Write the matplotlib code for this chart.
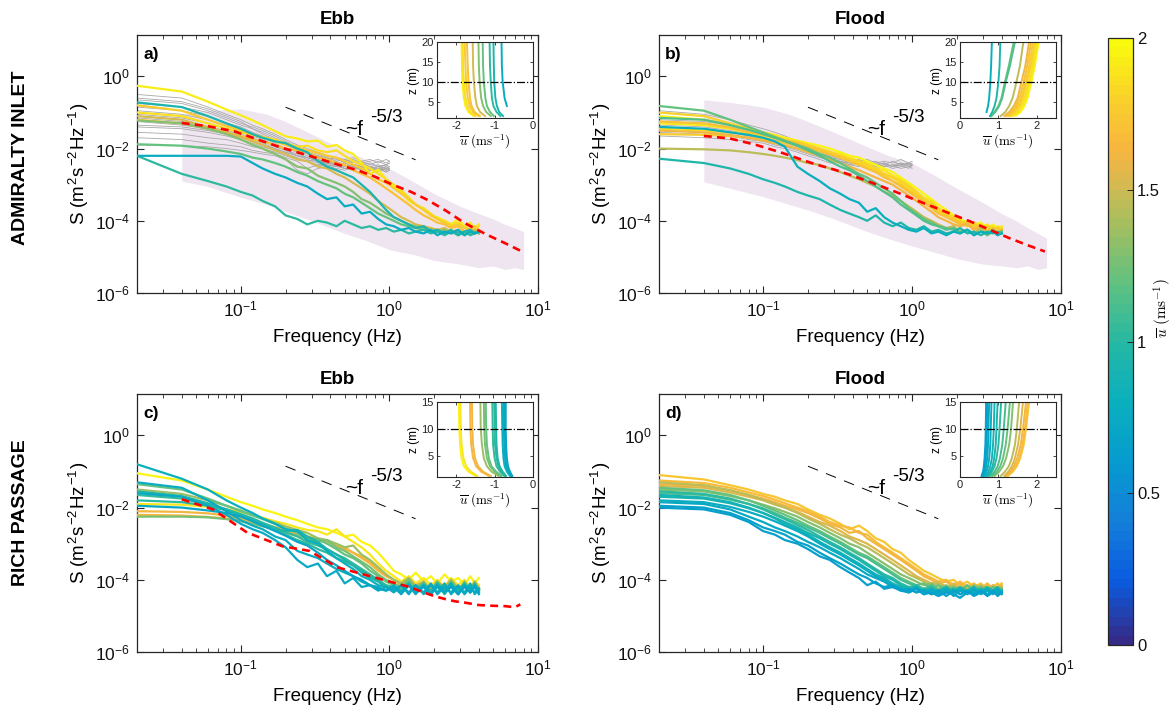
import numpy as np
import matplotlib
matplotlib.use('Agg')
import matplotlib.pyplot as plt
from matplotlib.colors import LinearSegmentedColormap, ListedColormap, Normalize
from matplotlib import ticker
import matplotlib.cm as cm

plt.rcParams['font.family'] = ['Liberation Sans', 'DejaVu Sans']
plt.rcParams['mathtext.fontset'] = 'cm'
plt.rcParams['axes.unicode_minus'] = False

# ---------------- data ----------------
FREQ = [0.02, 0.04, 0.06, 0.08, 0.10, 0.12, 0.14, 0.17, 0.20, 0.24, 0.28, 0.33, 0.38, 0.44, 0.50, 0.57,
        0.65, 0.74, 0.84, 0.95, 1.07, 1.2, 1.35, 1.5, 1.7, 1.9, 2.1, 2.35, 2.6, 2.9, 3.2, 3.5, 3.75, 4.0]
GREY_FREQ = [0.02, 0.04, 0.06, 0.08, 0.10, 0.12, 0.14, 0.17, 0.20, 0.24, 0.28, 0.33, 0.38, 0.44, 0.50,
             0.57, 0.65, 0.74, 0.84, 0.95, 1.0]
SHADE_FREQ = [0.04, 0.06, 0.1, 0.15, 0.2, 0.3, 0.5, 0.7, 1.0, 1.5, 2, 3, 4, 5, 6, 7, 8]
RED_FREQ = [0.04, 0.06, 0.09, 0.13, 0.18, 0.23, 0.3, 0.4, 0.6, 0.8, 1.05, 1.4, 1.8, 2.4, 3.2, 4.5, 6, 7.8]
RED_FREQ_C = [0.04, 0.065, 0.11, 0.19, 0.29, 0.45, 0.79, 1.39, 1.7, 2.0, 2.4, 2.8, 3.2, 4.0, 5.0, 6.0, 7.0, 7.6]
REF_F = [0.2, 1.5]
REF_S = [0.14, 4.9e-3]

# log10 spectra, panel a (Admiralty Inlet, ebb)
SPEED_A = [1.92, 1.85, 1.78, 1.70, 1.50, 1.30, 1.20, 1.00, 0.75, 0.92]
SPEC_A = [
    [-0.26,-0.42,-0.70,-0.92,-1.08,-1.22,-1.35,-1.52,-1.66,-1.72,-1.80,-1.78,-1.95,-1.90,-2.05,-2.15,-2.40,-2.70,-2.58,-2.85,-3.05,-3.20,-3.45,-3.55,-3.70,-3.85,-3.90,-4.00,-4.10,-3.95,-4.15,-4.05,-4.20,-4.10],
    [-1.00,-1.10,-1.30,-1.45,-1.55,-1.62,-1.68,-1.75,-1.85,-1.95,-1.92,-2.05,-2.10,-2.05,-2.20,-2.35,-2.45,-2.55,-2.70,-2.85,-3.00,-3.15,-3.35,-3.55,-3.65,-3.80,-3.95,-4.00,-4.10,-4.05,-4.20,-4.10,-4.25,-4.15],
    [-0.80,-0.95,-1.20,-1.38,-1.50,-1.60,-1.70,-1.80,-1.90,-1.98,-2.05,-2.12,-2.20,-2.25,-2.35,-2.45,-2.55,-2.70,-2.85,-2.95,-3.10,-3.25,-3.40,-3.55,-3.70,-3.85,-3.95,-4.05,-4.15,-4.10,-4.20,-4.25,-4.15,-4.30],
    [-1.20,-1.30,-1.45,-1.55,-1.65,-1.75,-1.80,-1.90,-2.00,-2.05,-2.10,-2.25,-2.30,-2.40,-2.45,-2.60,-2.70,-2.80,-2.95,-3.10,-3.25,-3.40,-3.55,-3.70,-3.85,-3.95,-4.05,-4.10,-4.20,-4.15,-4.30,-4.20,-4.35,-4.25],
    [-1.10,-1.20,-1.40,-1.55,-1.68,-1.80,-1.90,-2.05,-2.15,-2.30,-2.35,-2.50,-2.55,-2.70,-2.80,-2.95,-3.10,-3.25,-3.45,-3.60,-3.75,-3.90,-4.00,-4.10,-4.15,-4.20,-4.25,-4.20,-4.30,-4.25,-4.35,-4.30,-4.25,-4.35],
    [-1.22,-1.30,-1.45,-1.60,-1.75,-1.90,-2.00,-2.15,-2.30,-2.50,-2.55,-2.75,-2.85,-2.95,-3.05,-3.20,-3.40,-3.50,-3.65,-3.80,-3.90,-4.00,-4.10,-4.15,-4.20,-4.25,-4.30,-4.25,-4.35,-4.30,-4.40,-4.30,-4.35,-4.30],
    [-1.88,-1.92,-2.00,-2.08,-2.15,-2.25,-2.30,-2.40,-2.50,-2.65,-2.75,-2.90,-3.00,-3.10,-3.25,-3.35,-3.50,-3.65,-3.80,-3.90,-4.00,-4.10,-4.15,-4.20,-4.25,-4.30,-4.25,-4.35,-4.30,-4.40,-4.30,-4.35,-4.30,-4.35],
    [-2.20,-2.70,-2.90,-3.05,-3.20,-3.30,-3.45,-3.60,-3.85,-3.95,-4.10,-4.00,-4.05,-4.15,-4.00,-4.10,-4.20,-4.15,-4.25,-4.20,-4.30,-4.25,-4.35,-4.30,-4.25,-4.35,-4.30,-4.40,-4.30,-4.35,-4.30,-4.40,-4.35,-4.30],
    [-2.20,-2.20,-2.20,-2.20,-2.22,-2.40,-2.55,-2.70,-2.80,-2.95,-3.05,-3.25,-3.40,-3.35,-3.60,-3.55,-3.80,-3.75,-3.95,-4.10,-4.15,-4.25,-4.20,-4.30,-4.35,-4.25,-4.40,-4.30,-4.35,-4.25,-4.40,-4.30,-4.35,-4.30],
    [-0.72,-0.85,-1.10,-1.30,-1.45,-1.60,-1.70,-1.80,-1.85,-2.00,-2.10,-2.35,-2.50,-2.60,-2.70,-2.80,-3.00,-3.20,-3.45,-3.70,-3.90,-4.00,-4.10,-4.20,-4.15,-4.30,-4.25,-4.35,-4.25,-4.40,-4.30,-4.25,-4.35,-4.30],
]
GREY_A = [
    [-0.50,-0.60,-0.85,-1.05,-1.20,-1.35,-1.45,-1.60,-1.75,-1.90,-2.00,-2.10,-2.20,-2.25,-2.30,-2.25,-2.35,-2.30,-2.40,-2.30,-2.35],
    [-0.65,-0.75,-0.95,-1.15,-1.30,-1.40,-1.50,-1.65,-1.80,-1.95,-2.05,-2.15,-2.25,-2.35,-2.30,-2.40,-2.35,-2.45,-2.35,-2.45,-2.40],
    [-0.75,-0.85,-1.00,-1.20,-1.35,-1.45,-1.55,-1.70,-1.85,-2.00,-2.10,-2.20,-2.30,-2.25,-2.40,-2.35,-2.45,-2.40,-2.50,-2.45,-2.40],
    [-0.85,-0.95,-1.10,-1.30,-1.40,-1.55,-1.65,-1.80,-1.90,-2.05,-2.15,-2.20,-2.35,-2.40,-2.35,-2.45,-2.40,-2.50,-2.45,-2.55,-2.50],
    [-0.95,-1.05,-1.20,-1.35,-1.45,-1.60,-1.70,-1.85,-2.00,-2.10,-2.20,-2.30,-2.35,-2.45,-2.40,-2.50,-2.45,-2.55,-2.50,-2.45,-2.50],
    [-1.05,-1.15,-1.30,-1.45,-1.55,-1.65,-1.75,-1.90,-2.05,-2.15,-2.25,-2.30,-2.40,-2.35,-2.50,-2.45,-2.55,-2.50,-2.60,-2.50,-2.55],
    [-1.15,-1.25,-1.40,-1.50,-1.60,-1.70,-1.80,-1.95,-2.05,-2.20,-2.25,-2.35,-2.45,-2.50,-2.45,-2.55,-2.50,-2.60,-2.55,-2.60,-2.55],
    [-1.25,-1.35,-1.45,-1.55,-1.65,-1.75,-1.85,-2.00,-2.10,-2.20,-2.30,-2.40,-2.35,-2.45,-2.55,-2.50,-2.60,-2.55,-2.50,-2.60,-2.55],
    [-1.40,-1.45,-1.55,-1.65,-1.75,-1.85,-1.95,-2.05,-2.15,-2.25,-2.35,-2.30,-2.45,-2.50,-2.45,-2.55,-2.50,-2.60,-2.55,-2.65,-2.60],
    [-1.55,-1.60,-1.70,-1.75,-1.85,-1.95,-2.00,-2.10,-2.20,-2.30,-2.35,-2.45,-2.40,-2.50,-2.55,-2.50,-2.60,-2.55,-2.65,-2.55,-2.60],
    [-1.70,-1.75,-1.85,-1.90,-1.95,-2.05,-2.10,-2.15,-2.25,-2.35,-2.55,-2.45,-2.50,-2.45,-2.55,-2.60,-2.50,-2.60,-2.55,-2.65,-2.60],
    [-1.90,-1.92,-1.95,-2.00,-2.05,-2.10,-2.15,-2.20,-2.30,-2.60,-2.70,-2.55,-2.50,-2.55,-2.60,-2.50,-2.60,-2.55,-2.60,-2.55,-2.60],
    [-0.60,-0.70,-0.90,-1.10,-1.25,-1.45,-1.60,-1.75,-1.90,-2.00,-2.10,-2.20,-2.25,-2.30,-2.35,-2.30,-2.40,-2.35,-2.30,-2.40,-2.35],
    [-1.35,-1.40,-1.50,-1.60,-1.70,-1.80,-1.90,-2.00,-2.10,-2.20,-2.25,-2.35,-2.40,-2.45,-2.50,-2.45,-2.55,-2.50,-2.55,-2.50,-2.55],
]
SHADE_A_HI = [-1.05,-0.95,-0.90,-1.05,-1.25,-1.60,-2.05,-2.30,-2.55,-2.95,-3.25,-3.60,-3.80,-3.95,-4.10,-4.20,-4.30]
SHADE_A_LO = [-2.90,-3.05,-3.35,-3.55,-3.75,-4.00,-4.35,-4.55,-4.80,-4.95,-5.10,-5.20,-5.30,-5.25,-5.35,-5.30,-5.35]
RED_A = [-1.29,-1.38,-1.52,-1.75,-1.95,-2.08,-2.22,-2.38,-2.59,-2.78,-3.00,-3.20,-3.42,-3.72,-4.06,-4.38,-4.62,-4.85]

# panel b (Admiralty Inlet, flood)
SPEED_B = [1.95, 1.90, 1.85, 1.80, 1.75, 1.70, 1.60, 1.45, 1.20, 1.15, 0.95, 0.80]
SPEC_B = [
    [-1.10,-1.20,-1.35,-1.45,-1.55,-1.62,-1.70,-1.78,-1.85,-1.92,-2.00,-2.10,-2.20,-2.25,-2.35,-2.45,-2.55,-2.65,-2.80,-2.95,-3.10,-3.25,-3.40,-3.55,-3.70,-3.85,-3.95,-4.05,-4.10,-4.05,-4.20,-4.10,-4.25,-4.15],
    [-1.30,-1.35,-1.45,-1.55,-1.62,-1.70,-1.75,-1.80,-1.90,-2.00,-2.10,-2.15,-2.25,-2.35,-2.40,-2.55,-2.60,-2.75,-2.85,-3.00,-3.20,-3.35,-3.45,-3.65,-3.80,-3.90,-4.00,-4.10,-4.05,-4.20,-4.10,-4.25,-4.15,-4.20],
    [-1.45,-1.50,-1.55,-1.60,-1.65,-1.72,-1.80,-1.88,-1.95,-2.05,-2.10,-2.20,-2.30,-2.40,-2.50,-2.60,-2.70,-2.80,-2.95,-3.10,-3.25,-3.45,-3.55,-3.70,-3.85,-3.95,-4.05,-4.00,-4.15,-4.10,-4.25,-4.15,-4.30,-4.20],
    [-1.00,-1.10,-1.30,-1.45,-1.55,-1.65,-1.75,-1.82,-1.90,-2.00,-2.08,-2.20,-2.30,-2.35,-2.45,-2.55,-2.70,-2.80,-2.90,-3.05,-3.20,-3.40,-3.50,-3.65,-3.80,-3.90,-4.00,-4.10,-4.05,-4.20,-4.15,-4.30,-4.20,-4.25],
    [-1.60,-1.62,-1.65,-1.70,-1.75,-1.80,-1.85,-1.92,-2.00,-2.08,-2.15,-2.25,-2.35,-2.45,-2.55,-2.65,-2.75,-2.90,-3.00,-3.15,-3.30,-3.45,-3.60,-3.75,-3.85,-3.95,-4.05,-4.15,-4.10,-4.25,-4.15,-4.30,-4.20,-4.25],
    [-1.25,-1.30,-1.42,-1.55,-1.62,-1.70,-1.78,-1.85,-1.95,-2.05,-2.15,-2.25,-2.35,-2.45,-2.55,-2.65,-2.80,-2.90,-3.05,-3.20,-3.35,-3.50,-3.65,-3.80,-3.90,-4.00,-4.10,-4.05,-4.20,-4.15,-4.30,-4.20,-4.35,-4.25],
    [-1.50,-1.55,-1.62,-1.70,-1.78,-1.85,-1.92,-2.00,-2.10,-2.20,-2.30,-2.40,-2.50,-2.60,-2.70,-2.80,-2.90,-3.00,-3.15,-3.30,-3.45,-3.60,-3.75,-3.90,-4.00,-4.10,-4.15,-4.10,-4.25,-4.20,-4.30,-4.25,-4.35,-4.25],
    [-2.00,-2.02,-2.05,-2.10,-2.15,-2.20,-2.25,-2.32,-2.40,-2.45,-2.55,-2.65,-2.75,-2.85,-2.95,-3.05,-3.20,-3.30,-3.45,-3.60,-3.75,-3.90,-4.00,-4.10,-4.20,-4.15,-4.30,-4.25,-4.35,-4.20,-4.40,-4.25,-4.35,-4.30],
    [-0.82,-0.95,-1.20,-1.40,-1.55,-1.68,-1.78,-1.90,-2.00,-2.15,-2.25,-2.40,-2.55,-2.70,-2.80,-2.95,-3.10,-3.25,-3.45,-3.65,-3.80,-3.95,-4.05,-4.15,-4.20,-4.25,-4.30,-4.25,-4.35,-4.30,-4.40,-4.30,-4.35,-4.30],
    [-1.15,-1.20,-1.35,-1.48,-1.60,-1.70,-1.80,-1.92,-2.05,-2.20,-2.35,-2.50,-2.60,-2.75,-2.90,-3.05,-3.20,-3.35,-3.55,-3.70,-3.85,-4.00,-4.10,-4.15,-4.25,-4.20,-4.35,-4.25,-4.40,-4.30,-4.35,-4.25,-4.40,-4.30],
    [-2.28,-2.40,-2.55,-2.70,-2.85,-2.95,-3.05,-3.20,-3.30,-3.40,-3.55,-3.70,-3.80,-3.90,-4.00,-3.85,-4.05,-4.15,-4.05,-4.20,-4.25,-4.15,-4.30,-4.25,-4.35,-4.30,-4.20,-4.35,-4.30,-4.40,-4.30,-4.35,-4.30,-4.35],
    [-1.40,-1.45,-1.55,-1.62,-1.70,-1.80,-1.95,-2.50,-2.70,-2.90,-3.10,-3.25,-3.40,-3.50,-3.75,-3.65,-3.90,-4.05,-4.15,-4.25,-4.30,-4.20,-4.35,-4.30,-4.40,-4.30,-4.35,-4.25,-4.40,-4.30,-4.35,-4.30,-4.40,-4.35],
]
GREY_B = [
    [-0.95,-1.05,-1.20,-1.35,-1.45,-1.55,-1.65,-1.80,-1.90,-2.05,-2.15,-2.25,-2.30,-2.35,-2.30,-2.40,-2.35,-2.40,-2.30,-2.40,-2.35],
    [-1.10,-1.20,-1.30,-1.45,-1.55,-1.65,-1.75,-1.85,-1.95,-2.10,-2.20,-2.25,-2.35,-2.30,-2.40,-2.35,-2.45,-2.35,-2.45,-2.40,-2.45],
    [-1.25,-1.30,-1.40,-1.50,-1.60,-1.70,-1.80,-1.90,-2.00,-2.10,-2.20,-2.30,-2.25,-2.40,-2.35,-2.45,-2.40,-2.50,-2.40,-2.45,-2.40],
    [-1.35,-1.40,-1.50,-1.60,-1.70,-1.75,-1.85,-1.95,-2.05,-2.15,-2.25,-2.35,-2.40,-2.35,-2.45,-2.40,-2.50,-2.45,-2.40,-2.50,-2.45],
    [-1.45,-1.50,-1.55,-1.65,-1.75,-1.85,-1.90,-2.00,-2.10,-2.20,-2.30,-2.35,-2.45,-2.40,-2.50,-2.45,-2.40,-2.50,-2.45,-2.55,-2.45],
    [-1.55,-1.60,-1.65,-1.75,-1.80,-1.90,-1.95,-2.05,-2.15,-2.25,-2.30,-2.40,-2.35,-2.45,-2.40,-2.50,-2.45,-2.55,-2.50,-2.45,-2.50],
    [-1.65,-1.70,-1.75,-1.80,-1.85,-1.95,-2.00,-2.10,-2.20,-2.30,-2.40,-2.35,-2.45,-2.50,-2.45,-2.55,-2.50,-2.45,-2.55,-2.50,-2.55],
    [-1.20,-1.25,-1.35,-1.45,-1.55,-1.65,-1.75,-1.90,-2.00,-2.15,-2.25,-2.30,-2.40,-2.45,-2.35,-2.45,-2.40,-2.50,-2.45,-2.40,-2.45],
]
SHADE_B_HI = [-0.65,-0.72,-0.85,-1.05,-1.25,-1.55,-1.95,-2.20,-2.40,-2.80,-3.10,-3.50,-3.80,-4.00,-4.20,-4.35,-4.48]
SHADE_B_LO = [-2.92,-3.10,-3.33,-3.55,-3.70,-3.95,-4.30,-4.50,-4.70,-4.90,-5.05,-5.20,-5.25,-5.30,-5.25,-5.35,-5.30]
RED_B = [-1.65,-1.72,-1.90,-2.10,-2.30,-2.45,-2.58,-2.75,-3.02,-3.22,-3.42,-3.62,-3.80,-4.00,-4.22,-4.48,-4.68,-4.85]

# panel c (Rich Passage, ebb)
SPEED_C = [1.95, 1.90, 1.65, 1.60, 1.35, 1.25, 1.20, 1.05, 1.00, 0.95, 0.80, 0.75, 0.72, 0.70]
SPEC_C = [
    [-1.05,-1.25,-1.50,-1.70,-1.85,-1.95,-2.05,-2.15,-2.25,-2.35,-2.45,-2.55,-2.60,-2.70,-2.80,-2.75,-2.95,-3.05,-3.25,-3.50,-3.75,-3.85,-4.00,-3.80,-4.05,-3.90,-4.10,-3.85,-4.05,-3.95,-4.15,-3.90,-4.10,-3.95],
    [-1.90,-1.92,-1.98,-2.05,-2.12,-2.20,-2.28,-2.38,-2.45,-2.55,-2.62,-2.65,-2.75,-2.60,-2.80,-2.95,-3.10,-3.30,-3.55,-3.75,-3.90,-4.05,-3.90,-4.10,-3.95,-4.15,-4.00,-4.20,-3.95,-4.15,-4.00,-4.20,-4.05,-4.15],
    [-2.20,-2.22,-2.26,-2.30,-2.35,-2.42,-2.48,-2.55,-2.65,-2.75,-2.80,-2.90,-2.95,-3.05,-3.15,-3.25,-3.40,-3.55,-3.75,-3.90,-4.00,-4.10,-3.95,-4.15,-4.05,-4.25,-4.05,-4.20,-4.00,-4.25,-4.10,-4.25,-4.05,-4.20],
    [-2.10,-2.12,-2.16,-2.22,-2.30,-2.38,-2.45,-2.55,-2.60,-2.72,-2.80,-2.88,-2.95,-3.05,-3.10,-3.25,-3.35,-3.50,-3.70,-3.88,-4.00,-4.15,-4.00,-4.25,-4.05,-4.30,-4.10,-4.25,-4.05,-4.30,-4.10,-4.25,-4.05,-4.25],
    [-1.50,-1.62,-1.80,-1.95,-2.08,-2.20,-2.30,-2.42,-2.52,-2.62,-2.70,-2.85,-2.90,-3.00,-3.10,-3.05,-3.30,-3.45,-3.65,-3.85,-4.00,-4.10,-3.95,-4.20,-4.05,-4.30,-4.05,-4.25,-4.00,-4.25,-4.10,-4.30,-4.05,-4.25],
    [-2.25,-2.25,-2.27,-2.32,-2.38,-2.45,-2.52,-2.60,-2.70,-2.78,-2.85,-2.95,-2.90,-3.10,-3.20,-3.35,-3.50,-3.65,-3.85,-4.00,-4.10,-4.20,-4.00,-4.25,-4.10,-4.30,-4.05,-4.25,-4.10,-4.35,-4.05,-4.30,-4.10,-4.25],
    [-1.35,-1.50,-1.75,-1.95,-2.10,-2.22,-2.32,-2.45,-2.58,-2.70,-2.82,-2.88,-3.00,-3.15,-3.30,-3.40,-3.55,-3.75,-3.90,-4.05,-4.15,-4.25,-4.05,-4.25,-4.10,-4.35,-4.10,-4.30,-4.05,-4.30,-4.15,-4.35,-4.10,-4.30],
    [-1.65,-1.75,-1.92,-2.05,-2.18,-2.30,-2.42,-2.55,-2.68,-2.80,-2.95,-3.05,-3.15,-3.30,-3.40,-3.55,-3.70,-3.85,-4.00,-4.15,-4.20,-4.30,-4.10,-4.35,-4.10,-4.35,-4.15,-4.30,-4.10,-4.35,-4.15,-4.30,-4.15,-4.30],
    [-1.80,-1.85,-1.95,-2.08,-2.22,-2.35,-2.48,-2.62,-2.75,-2.90,-3.00,-3.15,-3.25,-3.40,-3.50,-3.60,-3.80,-3.95,-4.05,-4.20,-4.25,-4.30,-4.10,-4.35,-4.15,-4.40,-4.10,-4.30,-4.15,-4.40,-4.15,-4.30,-4.10,-4.35],
    [-1.55,-1.68,-1.88,-2.05,-2.20,-2.32,-2.45,-2.60,-2.65,-2.62,-2.80,-2.95,-3.15,-3.30,-3.45,-3.60,-3.75,-3.90,-4.05,-4.20,-4.25,-4.35,-4.10,-4.35,-4.15,-4.30,-4.10,-4.40,-4.15,-4.30,-4.10,-4.35,-4.15,-4.30],
    [-0.80,-1.20,-1.50,-1.80,-2.00,-2.15,-2.30,-2.45,-2.60,-2.65,-2.90,-3.00,-3.20,-3.40,-3.55,-3.70,-3.90,-4.00,-4.15,-4.20,-4.30,-4.15,-4.35,-4.15,-4.40,-4.15,-4.35,-4.10,-4.40,-4.20,-4.35,-4.10,-4.40,-4.25],
    [-1.30,-1.45,-1.80,-2.10,-2.35,-2.50,-2.60,-2.80,-2.90,-3.20,-3.30,-3.40,-3.55,-3.70,-3.80,-3.90,-4.05,-4.15,-4.20,-4.30,-4.15,-4.35,-4.15,-4.40,-4.15,-4.40,-4.20,-4.35,-4.10,-4.40,-4.20,-4.35,-4.15,-4.35],
    [-1.60,-1.70,-1.95,-2.20,-2.45,-2.60,-2.70,-2.90,-3.10,-3.45,-3.65,-3.55,-3.90,-3.75,-4.10,-3.95,-4.20,-4.15,-4.30,-4.20,-4.35,-4.15,-4.40,-4.15,-4.35,-4.10,-4.40,-4.20,-4.35,-4.15,-4.40,-4.20,-4.35,-4.25],
    [-1.95,-2.00,-2.08,-2.15,-2.25,-2.38,-2.50,-2.65,-2.78,-2.95,-3.05,-3.25,-3.45,-3.60,-3.75,-3.90,-4.00,-4.15,-4.25,-4.30,-4.20,-4.40,-4.15,-4.35,-4.20,-4.40,-4.15,-4.35,-4.20,-4.40,-4.15,-4.35,-4.20,-4.40],
]
RED_C = [-1.77,-2.05,-2.69,-3.07,-3.20,-3.66,-3.93,-4.21,-4.35,-4.45,-4.54,-4.60,-4.63,-4.70,-4.72,-4.73,-4.76,-4.68]

# panel d (Rich Passage, flood)
SPEED_D = [1.72, 1.68, 1.62, 1.55, 1.45, 1.30, 1.20, 1.10, 1.00, 0.92, 0.85, 0.78, 0.72, 0.68, 0.65]
SPEC_D = [
    [-1.10,-1.22,-1.38,-1.50,-1.62,-1.70,-1.80,-1.90,-2.05,-2.20,-2.30,-2.45,-2.60,-2.50,-2.65,-2.85,-2.95,-3.15,-3.25,-3.45,-3.60,-3.75,-3.85,-3.95,-4.05,-4.00,-4.15,-4.05,-4.20,-4.10,-4.25,-4.15,-4.20,-4.10],
    [-1.25,-1.32,-1.45,-1.58,-1.68,-1.78,-1.88,-2.00,-2.10,-2.25,-2.40,-2.50,-2.55,-2.70,-2.75,-2.95,-3.10,-3.25,-3.40,-3.55,-3.70,-3.85,-3.95,-4.05,-4.00,-4.15,-4.05,-4.20,-4.10,-4.25,-4.15,-4.20,-4.10,-4.25],
    [-1.35,-1.40,-1.52,-1.65,-1.75,-1.85,-1.95,-2.05,-2.15,-2.30,-2.45,-2.55,-2.70,-2.65,-2.85,-3.00,-3.15,-3.30,-3.45,-3.60,-3.75,-3.90,-4.00,-4.10,-4.05,-4.20,-4.10,-4.25,-4.15,-4.25,-4.10,-4.25,-4.20,-4.15],
    [-1.40,-1.45,-1.58,-1.70,-1.80,-1.92,-2.00,-2.12,-2.25,-2.40,-2.50,-2.65,-2.80,-2.90,-3.00,-3.15,-3.30,-3.45,-3.60,-3.75,-3.90,-4.00,-4.10,-4.05,-4.20,-4.10,-4.25,-4.15,-4.30,-4.15,-4.25,-4.15,-4.30,-4.20],
    [-1.30,-1.38,-1.52,-1.65,-1.78,-1.90,-2.00,-2.15,-2.30,-2.45,-2.60,-2.75,-2.85,-3.00,-3.10,-3.25,-3.40,-3.55,-3.70,-3.85,-3.95,-4.05,-4.15,-4.10,-4.25,-4.15,-4.30,-4.20,-4.25,-4.15,-4.30,-4.20,-4.25,-4.20],
    [-1.50,-1.55,-1.68,-1.80,-1.92,-2.02,-2.12,-2.25,-2.40,-2.55,-2.70,-2.85,-3.00,-3.10,-3.25,-3.40,-3.55,-3.70,-3.85,-3.95,-4.05,-4.15,-4.10,-4.25,-4.15,-4.30,-4.20,-4.30,-4.15,-4.25,-4.20,-4.30,-4.20,-4.25],
    [-1.45,-1.52,-1.65,-1.80,-1.95,-2.08,-2.20,-2.35,-2.50,-2.65,-2.80,-2.95,-3.10,-3.25,-3.35,-3.50,-3.65,-3.80,-3.95,-4.05,-4.15,-4.10,-4.25,-4.15,-4.30,-4.20,-4.30,-4.15,-4.30,-4.20,-4.30,-4.20,-4.30,-4.25],
    [-1.60,-1.65,-1.78,-1.90,-2.02,-2.15,-2.28,-2.42,-2.55,-2.70,-2.85,-3.00,-3.15,-3.30,-3.40,-3.55,-3.70,-3.85,-4.00,-4.10,-4.15,-4.25,-4.15,-4.30,-4.20,-4.35,-4.20,-4.30,-4.20,-4.35,-4.20,-4.30,-4.25,-4.30],
    [-1.55,-1.62,-1.75,-1.90,-2.05,-2.20,-2.32,-2.48,-2.62,-2.80,-2.95,-3.10,-3.25,-3.40,-3.55,-3.70,-3.85,-3.95,-4.10,-4.20,-4.15,-4.30,-4.20,-4.35,-4.25,-4.30,-4.20,-4.35,-4.25,-4.30,-4.20,-4.35,-4.25,-4.30],
    [-1.70,-1.75,-1.88,-2.02,-2.15,-2.28,-2.40,-2.55,-2.70,-2.85,-3.00,-3.15,-3.30,-3.45,-3.60,-3.75,-3.90,-4.00,-4.15,-4.25,-4.20,-4.35,-4.25,-4.30,-4.20,-4.35,-4.25,-4.30,-4.20,-4.35,-4.25,-4.30,-4.20,-4.35],
    [-1.65,-1.72,-1.85,-2.00,-2.15,-2.30,-2.45,-2.60,-2.75,-2.95,-3.10,-3.25,-3.40,-3.55,-3.70,-3.85,-3.95,-4.10,-4.20,-4.25,-4.35,-4.25,-4.40,-4.30,-4.35,-4.25,-4.40,-4.30,-4.35,-4.25,-4.40,-4.30,-4.35,-4.30],
    [-1.80,-1.85,-1.98,-2.12,-2.25,-2.38,-2.50,-2.65,-2.80,-3.00,-3.15,-3.30,-3.45,-3.60,-3.75,-3.90,-4.00,-4.15,-4.25,-4.30,-4.20,-4.35,-4.25,-4.40,-4.30,-4.35,-4.25,-4.40,-4.30,-4.35,-4.25,-4.40,-4.30,-4.35],
    [-1.85,-1.90,-2.05,-2.25,-2.40,-2.55,-2.65,-2.80,-2.95,-3.10,-3.25,-3.40,-3.55,-3.70,-3.85,-3.95,-4.05,-4.20,-4.25,-4.35,-4.25,-4.40,-4.30,-4.35,-4.25,-4.45,-4.30,-4.35,-4.25,-4.40,-4.30,-4.35,-4.25,-4.40],
    [-1.95,-2.00,-2.15,-2.35,-2.55,-2.65,-2.75,-2.95,-3.05,-3.25,-3.40,-3.55,-3.70,-3.85,-3.95,-4.10,-4.20,-4.15,-4.30,-4.25,-4.35,-4.30,-4.40,-4.30,-4.45,-4.30,-4.40,-4.30,-4.45,-4.35,-4.40,-4.30,-4.45,-4.35],
    [-2.00,-2.05,-2.20,-2.40,-2.65,-2.75,-2.90,-3.00,-3.15,-3.35,-3.45,-3.65,-3.80,-3.95,-4.15,-4.05,-4.25,-4.20,-4.30,-4.35,-4.25,-4.40,-4.35,-4.45,-4.35,-4.40,-4.50,-4.35,-4.40,-4.30,-4.45,-4.35,-4.40,-4.35],
]

# inset velocity profiles (u in m/s at heights z in m)
Z_AB = [1.5, 2.5, 4, 6, 10, 14, 20]
Z_CD = [1.2, 2, 3, 4.5, 7, 10, 15]
PROF_A = [
    [-1.55,-1.68,-1.76,-1.80,-1.84,-1.85,-1.86],
    [-1.50,-1.63,-1.71,-1.76,-1.80,-1.82,-1.83],
    [-1.42,-1.56,-1.65,-1.70,-1.74,-1.76,-1.78],
    [-1.38,-1.52,-1.60,-1.64,-1.68,-1.70,-1.72],
    [-1.25,-1.38,-1.46,-1.50,-1.54,-1.56,-1.57],
    [-1.10,-1.22,-1.30,-1.35,-1.39,-1.41,-1.42],
    [-1.02,-1.12,-1.20,-1.24,-1.28,-1.30,-1.31],
    [-0.85,-0.95,-1.03,-1.07,-1.10,-1.12,-1.13],
    [np.nan,np.nan,-0.68,-0.74,-0.79,-0.81,-0.82],
    [-0.78,-0.88,-0.94,-0.98,-1.01,-1.02,-1.03],
]
PROF_B = [
    [1.45,1.58,1.68,1.76,1.86,1.95,2.05],
    [1.38,1.52,1.63,1.72,1.82,1.92,2.02],
    [1.32,1.47,1.58,1.68,1.79,1.88,1.98],
    [1.28,1.42,1.54,1.63,1.74,1.84,1.95],
    [1.25,1.38,1.50,1.60,1.71,1.80,1.90],
    [1.20,1.33,1.45,1.55,1.66,1.75,1.85],
    [1.15,1.28,1.40,1.50,1.60,1.70,1.80],
    [1.06,1.18,1.28,1.37,1.47,1.56,1.65],
    [0.80,0.90,1.00,1.08,1.17,1.27,1.40],
    [0.82,0.92,1.02,1.10,1.19,1.30,1.43],
    [0.78,0.84,0.90,0.95,1.00,1.03,1.05],
    [np.nan,0.69,0.73,0.76,0.79,0.81,0.83],
]
PROF_C = [
    [-1.50,-1.68,-1.80,-1.86,-1.90,-1.92,-1.93],
    [-1.45,-1.62,-1.74,-1.81,-1.86,-1.88,-1.89],
    [-1.15,-1.35,-1.48,-1.56,-1.61,-1.63,-1.64],
    [-1.10,-1.30,-1.43,-1.51,-1.56,-1.58,-1.59],
    [-0.90,-1.08,-1.20,-1.28,-1.33,-1.36,-1.37],
    [-0.85,-1.00,-1.12,-1.20,-1.25,-1.27,-1.28],
    [-0.82,-0.96,-1.08,-1.15,-1.20,-1.22,-1.23],
    [-0.75,-0.86,-0.95,-1.00,-1.04,-1.05,-1.06],
    [-0.72,-0.82,-0.90,-0.95,-0.99,-1.00,-1.01],
    [-0.70,-0.79,-0.87,-0.92,-0.95,-0.96,-0.97],
    [-0.60,-0.68,-0.74,-0.77,-0.79,-0.80,-0.81],
    [-0.57,-0.64,-0.70,-0.73,-0.75,-0.76,-0.76],
    [-0.55,-0.62,-0.67,-0.70,-0.72,-0.73,-0.73],
    [-0.54,-0.60,-0.65,-0.68,-0.70,-0.71,-0.71],
]
PROF_D = [
    [1.25,1.38,1.48,1.57,1.66,1.72,1.80],
    [1.22,1.34,1.45,1.54,1.63,1.69,1.77],
    [1.18,1.30,1.40,1.49,1.58,1.64,1.72],
    [1.15,1.26,1.35,1.43,1.51,1.57,1.64],
    [1.06,1.17,1.27,1.35,1.43,1.48,1.54],
    [0.90,1.02,1.12,1.20,1.28,1.33,1.38],
    [0.85,0.96,1.05,1.12,1.19,1.24,1.30],
    [0.80,0.90,0.98,1.04,1.10,1.14,1.19],
    [0.75,0.83,0.90,0.95,1.00,1.03,1.07],
    [0.72,0.79,0.85,0.89,0.93,0.95,0.98],
    [0.68,0.74,0.79,0.83,0.86,0.88,0.90],
    [0.64,0.69,0.73,0.76,0.79,0.80,0.82],
    [0.60,0.65,0.68,0.71,0.73,0.74,0.76],
    [0.58,0.62,0.65,0.67,0.69,0.70,0.71],
    [0.56,0.60,0.62,0.64,0.66,0.67,0.68],
]

TITLES = ['Ebb', 'Flood', 'Ebb', 'Flood']
LETTERS = ['a)', 'b)', 'c)', 'd)']
ROWS = ['ADMIRALTY INLET', 'RICH PASSAGE']
CBAR_TICKS = [0, 0.5, 1, 1.5, 2]

# ---------------- colormap (parula-like) ----------------
PARULA_STOPS = [
    (0.00, (0.208, 0.166, 0.529)),
    (0.10, (0.040, 0.360, 0.880)),
    (0.20, (0.078, 0.500, 0.850)),
    (0.30, (0.025, 0.610, 0.815)),
    (0.40, (0.040, 0.690, 0.740)),
    (0.50, (0.150, 0.720, 0.640)),
    (0.60, (0.380, 0.760, 0.500)),
    (0.70, (0.660, 0.745, 0.370)),
    (0.76, (0.820, 0.730, 0.320)),
    (0.82, (0.970, 0.710, 0.250)),
    (0.90, (0.975, 0.810, 0.170)),
    (1.00, (0.976, 0.983, 0.054)),
]
_base = LinearSegmentedColormap.from_list('parula_like', PARULA_STOPS)
CMAP = ListedColormap(_base(np.linspace(0, 1, 64)))
NORM = Normalize(0, 2)

W, H = 1174, 715
def pos(l, t, r, b):
    return [l / W, 1 - b / H, (r - l) / W, (b - t) / H]

fig = plt.figure(figsize=(W / 100, H / 100), dpi=100)

FRAME = '#262626'

def log_fmt(v, p):
    e = int(round(np.log10(v)))
    return r'$\mathregular{10^{%d}}$' % e

def style_main(ax):
    ax.set_xscale('log'); ax.set_yscale('log')
    ax.set_xlim(0.02, 10); ax.set_ylim(1e-6, 14)
    ax.set_yticks([1e-6, 1e-4, 1e-2, 1])
    ax.yaxis.set_minor_locator(ticker.NullLocator())
    ax.xaxis.set_major_locator(ticker.FixedLocator([0.1, 1, 10]))
    ax.xaxis.set_minor_locator(ticker.LogLocator(base=10, subs=np.arange(2, 10), numticks=20))
    ax.xaxis.set_major_formatter(ticker.FuncFormatter(log_fmt))
    ax.yaxis.set_major_formatter(ticker.FuncFormatter(log_fmt))
    ax.xaxis.set_minor_formatter(ticker.NullFormatter())
    ax.tick_params(which='both', direction='in', top=True, right=True, colors=FRAME,
                   labelcolor='#111111', labelsize=12.5)
    ax.tick_params(which='major', length=5, width=0.8, pad=5)
    ax.tick_params(which='minor', length=3, width=0.6)
    for s in ax.spines.values():
        s.set_color(FRAME); s.set_linewidth(0.9)
    ax.set_xlabel('Frequency (Hz)', fontsize=13.5)
    ax.set_ylabel(r'S (m$^{\mathregular{2}}$s$^{\mathregular{-2}}$Hz$^{\mathregular{-1}}$)', fontsize=13.5)
    ax.xaxis.set_label_coords(0.5, -0.14)
    ax.yaxis.set_label_coords(-0.115, 0.5)

def draw_main(ax, speeds, spectra, grey=None, shade=None, red=None, red_f=RED_FREQ):
    if shade is not None:
        ax.fill_between(SHADE_FREQ, 10 ** np.array(shade[1]), 10 ** np.array(shade[0]),
                        color='#efe5f1', lw=0, zorder=1)
    if grey is not None:
        for g in grey:
            ax.plot(GREY_FREQ[:len(g)], 10 ** np.array(g), color='#a8a8a8', lw=0.6, zorder=2)
    order = np.argsort(speeds)[::-1]
    for i in order:
        s = spectra[i]
        ax.plot(FREQ[:len(s)], 10 ** np.array(s), color=CMAP(NORM(speeds[i])), lw=1.6, zorder=3)
    if red is not None:
        ax.plot(red_f, 10 ** np.array(red), color='red', lw=1.9, dashes=(3, 2), zorder=4)
    ax.plot(REF_F, REF_S, color='black', lw=0.7, dashes=(11, 9), zorder=4)
    ax.text(0.50, 0.024, '~f', fontsize=15, ha='left', va='baseline', zorder=5)
    ax.text(0.74, 0.056, '-5/3', fontsize=13.5, ha='left', va='baseline', zorder=5)

def draw_inset(rect, speeds, profiles, z, xlim, xticks, ylim, yticks):
    ai = fig.add_axes(rect)
    for u, p in zip(speeds, profiles):
        ai.plot(p, z[:len(p)], color=CMAP(NORM(u)), lw=1.4)
    ai.axhline(10, color='black', lw=0.9, ls='-.')
    ai.set_xlim(*xlim); ai.set_ylim(*ylim)
    ai.set_xticks(xticks); ai.set_yticks(yticks)
    ai.tick_params(direction='in', top=True, right=True, labelsize=8, length=2.5,
                   width=0.6, pad=2.5, colors=FRAME, labelcolor='#222222')
    for s in ai.spines.values():
        s.set_color(FRAME); s.set_linewidth(0.8)
    ai.set_ylabel('z (m)', fontsize=8.5, labelpad=1)
    ai.set_xlabel(r'$\overline{u}\ \mathrm{(ms^{-1})}$', fontsize=9.5, labelpad=1)
    return ai

axa = fig.add_axes(pos(137, 35, 538, 293))
axb = fig.add_axes(pos(659, 35, 1061, 293))
axc = fig.add_axes(pos(137, 394, 538, 652))
axd = fig.add_axes(pos(659, 394, 1061, 652))

draw_main(axa, SPEED_A, SPEC_A, GREY_A, (SHADE_A_HI, SHADE_A_LO), RED_A)
draw_main(axb, SPEED_B, SPEC_B, GREY_B, (SHADE_B_HI, SHADE_B_LO), RED_B)
draw_main(axc, SPEED_C, SPEC_C, None, None, RED_C, RED_FREQ_C)
draw_main(axd, SPEED_D, SPEC_D)

for ax, lt in zip([axa, axb, axc, axd], LETTERS):
    style_main(ax)
    ax.text(0.015, 0.955, lt, transform=ax.transAxes, fontsize=12.5, fontweight='bold',
            ha='left', va='top', zorder=6)

draw_inset(pos(437, 42, 533, 118), SPEED_A, PROF_A, Z_AB, (-2.5, 0), [-2, -1, 0], (1, 20), [5, 10, 15, 20])
draw_inset(pos(960, 42, 1056, 118), SPEED_B, PROF_B, Z_AB, (0, 2.5), [0, 1, 2], (1, 20), [5, 10, 15, 20])
draw_inset(pos(437, 402, 533, 477), SPEED_C, PROF_C, Z_CD, (-2.5, 0), [-2, -1, 0], (1, 15), [5, 10, 15])
draw_inset(pos(960, 402, 1056, 477), SPEED_D, PROF_D, Z_CD, (0, 2.5), [0, 1, 2], (1, 15), [5, 10, 15])

# titles and row labels
for (x, y), t in zip([(337, 19), (860, 19), (337, 379), (860, 379)], TITLES):
    fig.text(x / W, 1 - y / H, t, fontsize=13.5, fontweight='bold', ha='center', va='center')
fig.text(21 / W, 1 - 158 / H, ROWS[0], fontsize=14, fontweight='bold', rotation=90, ha='center', va='center')
fig.text(21 / W, 1 - 513 / H, ROWS[1], fontsize=14, fontweight='bold', rotation=90, ha='center', va='center')

# colorbar
cax = fig.add_axes(pos(1108, 38, 1133, 645))
sm = cm.ScalarMappable(norm=NORM, cmap=CMAP)
cb = fig.colorbar(sm, cax=cax, ticks=CBAR_TICKS)
cb.ax.set_yticklabels(['0', '0.5', '1', '1.5', '2'])
cb.ax.tick_params(direction='in', length=4, width=0.7, labelsize=12, pad=3, colors=FRAME, labelcolor='#111111')
cb.outline.set_linewidth(0.9)
cb.outline.set_edgecolor(FRAME)
cax.text(2.2, 0.555, r'$\overline{u}\ \mathrm{(ms^{-1})}$', transform=cax.transAxes, rotation=90,
         fontsize=11, ha='center', va='center')

fig.savefig('out.png', dpi=100)
